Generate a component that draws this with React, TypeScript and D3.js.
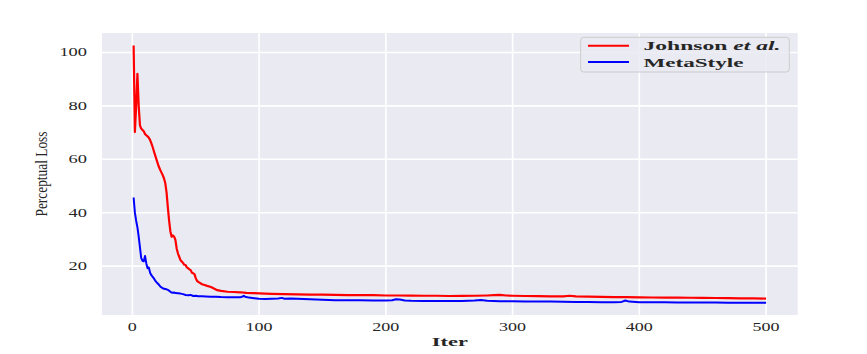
import React from 'react';
import * as d3 from 'd3';

// [iter, loss]
const johnson: [number, number][] = [
  [1, 102.6], [2, 70.2], [3, 80], [4, 92], [5, 80], [6, 72.7], [7, 71.5], [8, 71], [9, 70.5], [10, 69.5],
  [11, 69], [12, 68.6], [13, 68.1], [14, 67.2], [15, 66], [16, 64.6], [17, 63], [18, 61.5], [19, 60], [20, 58.5],
  [21, 57.1], [22, 56], [23, 55], [24, 54], [25, 52.8], [26, 51], [27, 47.5], [28, 42], [29, 37], [30, 33],
  [31, 31], [32, 31.5], [33, 31], [34, 29.7], [35, 26.5], [36, 24.7], [37, 23.5], [38, 22.2], [39, 21.7], [40, 21.2],
  [41, 20.5], [42, 20.4], [43, 19.5], [44, 19.2], [45, 18.8], [46, 18.5], [47, 17.5], [48, 17.3], [49, 17], [50, 15.5],
  [51, 14.5], [52, 14.1], [53, 13.8], [55, 13.2], [57, 12.9], [59, 12.6], [62, 12.2], [64, 11.7], [67, 11], [70, 10.7],
  [75, 10.4], [80, 10.3], [85, 10.2], [90, 10.0], [95, 9.9], [100, 9.8], [105, 9.7], [110, 9.6], [120, 9.5], [130, 9.4],
  [140, 9.35], [150, 9.3], [160, 9.2], [170, 9.15], [180, 9.1], [190, 9.1], [200, 9.0], [210, 9.0], [220, 8.95], [230, 8.9],
  [240, 8.9], [250, 8.8], [260, 8.85], [270, 8.9], [280, 9.0], [285, 9.1], [290, 9.2], [295, 9.0], [300, 8.9], [310, 8.8],
  [320, 8.75], [330, 8.7], [340, 8.7], [345, 8.9], [350, 8.7], [360, 8.6], [370, 8.5], [380, 8.4], [390, 8.35], [400, 8.3],
  [410, 8.25], [420, 8.2], [430, 8.25], [440, 8.15], [450, 8.1], [460, 8.05], [470, 8.0], [480, 7.95], [490, 7.9], [500, 7.85],
];

const metaStyle: [number, number][] = [
  [1, 45.7], [2, 40], [3, 37], [4, 34.5], [5, 31], [6, 27], [7, 23], [8, 22], [9, 21.8], [10, 23.8],
  [11, 21], [12, 19.2], [13, 19.5], [14, 17.5], [15, 16.6], [16, 16], [17, 15.4], [18, 14.6], [19, 14], [20, 13.5],
  [21, 13], [22, 12.4], [23, 12], [24, 11.7], [25, 11.5], [26, 11.4], [27, 11.3], [28, 11.1], [29, 10.8], [30, 10.4],
  [31, 10.1], [32, 10], [33, 10.1], [34, 9.9], [36, 9.8], [38, 9.7], [40, 9.5], [42, 9.2], [44, 9.1], [46, 9.2],
  [48, 8.8], [50, 8.9], [52, 8.7], [55, 8.7], [58, 8.6], [62, 8.5], [66, 8.5], [70, 8.4], [75, 8.35], [80, 8.3],
  [85, 8.3], [87, 8.6], [88, 8.9], [89, 8.5], [92, 8.2], [96, 8.0], [100, 7.8], [105, 7.7], [110, 7.8], [115, 7.9],
  [118, 8.1], [120, 7.8], [125, 7.85], [130, 7.8], [135, 7.7], [140, 7.6], [145, 7.5], [150, 7.4], [155, 7.3], [160, 7.25],
  [170, 7.2], [180, 7.2], [190, 7.15], [200, 7.1], [205, 7.2], [208, 7.6], [211, 7.5], [215, 7.1], [220, 7.0], [230, 6.95],
  [240, 6.9], [250, 6.9], [260, 6.95], [270, 7.1], [275, 7.3], [280, 7.0], [290, 6.85], [300, 6.8], [310, 6.75], [320, 6.7],
  [330, 6.7], [340, 6.65], [350, 6.6], [360, 6.55], [370, 6.5], [380, 6.5], [386, 6.6], [389, 7.1], [392, 6.7], [400, 6.5],
  [410, 6.45], [420, 6.45], [430, 6.4], [440, 6.4], [450, 6.35], [460, 6.35], [470, 6.3], [480, 6.3], [490, 6.3], [500, 6.3],
];

const xTicks = [0, 100, 200, 300, 400, 500];
const yTicks = [20, 40, 60, 80, 100];

const W = 867, H = 354;
const plot = { left: 102, right: 797.7, top: 33, bottom: 315 };
const serif = '"Liberation Serif", "DejaVu Serif", serif';
const ink = '#262626';

export default function App() {
  const x = d3.scaleLinear().domain([-23.95, 524.95]).range([plot.left, plot.right]);
  const y = d3.scaleLinear().domain([1.69, 107.3]).range([plot.bottom, plot.top]);
  const line = d3.line<[number, number]>().x((d) => x(d[0])).y((d) => y(d[1]));

  return (
    <svg width={W} height={H} style={{ position: 'absolute', left: 0, top: 0, background: '#fff' }}>
      <rect x={plot.left} y={plot.top} width={plot.right - plot.left} height={plot.bottom - plot.top} fill="#eaeaf2" />
      {xTicks.map((t) => (
        <line key={'gx' + t} x1={x(t)} x2={x(t)} y1={plot.top} y2={plot.bottom} stroke="#fff" strokeWidth={1.6} />
      ))}
      {yTicks.map((t) => (
        <line key={'gy' + t} x1={plot.left} x2={plot.right} y1={y(t)} y2={y(t)} stroke="#fff" strokeWidth={1.6} />
      ))}

      <path d={line(johnson) || ''} fill="none" stroke="#ff0000" strokeWidth={2.2} strokeLinejoin="round" />
      <path d={line(metaStyle) || ''} fill="none" stroke="#0000ff" strokeWidth={2} strokeLinejoin="round" />

      {xTicks.map((t) => (
        <text key={'tx' + t} x={x(t)} y={331} textAnchor="middle" fontFamily={serif} fontSize={12} fill={ink}
          textLength={String(t).length * 9} lengthAdjust="spacingAndGlyphs">{t}</text>
      ))}
      {yTicks.map((t) => (
        <text key={'ty' + t} x={87} y={y(t) + 4} textAnchor="end" fontFamily={serif} fontSize={12} fill={ink}
          textLength={String(t).length * 9.2} lengthAdjust="spacingAndGlyphs">{t}</text>
      ))}

      <text x={(plot.left + plot.right) / 2} y={346} textAnchor="middle" fontFamily={serif} fontSize={12}
        fontWeight="bold" fill={ink} textLength={36} lengthAdjust="spacingAndGlyphs">Iter</text>
      <text transform={`translate(47,${(plot.top + plot.bottom) / 2}) rotate(-90)`} textAnchor="middle"
        fontFamily={serif} fontSize={17} fill={ink} textLength={85} lengthAdjust="spacingAndGlyphs">Perceptual Loss</text>

      <g>
        <rect x={580.7} y={37.3} width={208.6} height={34.7} rx={3} fill="#eaeaf2" fillOpacity={0.85}
          stroke="#cccccc" strokeWidth={1} />
        <line x1={588} x2={629} y1={45.7} y2={45.7} stroke="#ff0000" strokeWidth={2} />
        <line x1={588} x2={629} y1={62} y2={62} stroke="#0000ff" strokeWidth={2} />
        <text x={643.5} y={50} fontFamily={serif} fontSize={12.5} fontWeight="bold" fill={ink}
          textLength={137} lengthAdjust="spacingAndGlyphs">
          Johnson <tspan fontStyle="italic">et al.</tspan>
        </text>
        <text x={643.5} y={66.5} fontFamily={serif} fontSize={12.5} fontWeight="bold" fill={ink}
          textLength={100} lengthAdjust="spacingAndGlyphs">MetaStyle</text>
      </g>
    </svg>
  );
}
